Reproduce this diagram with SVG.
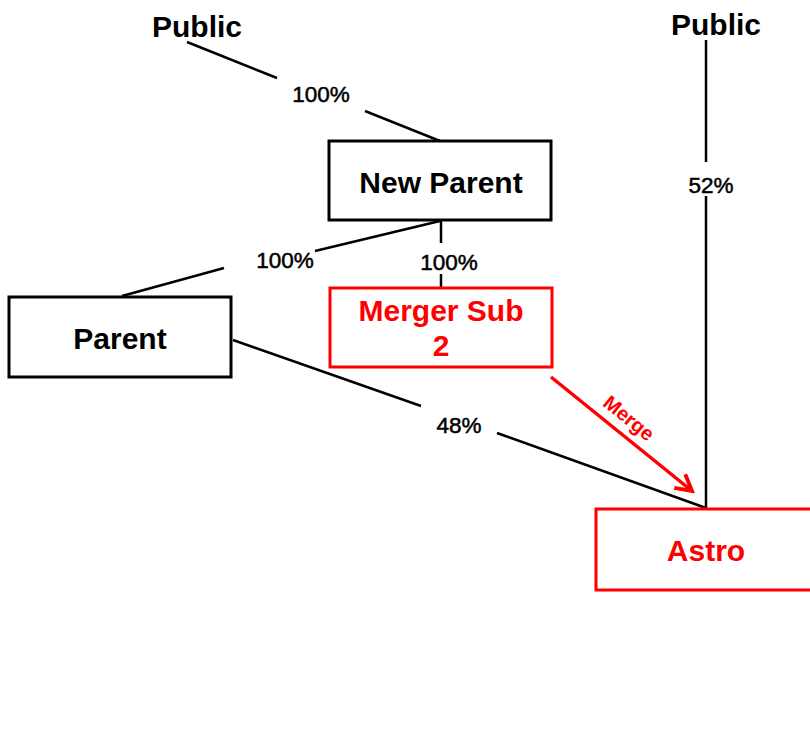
<svg xmlns="http://www.w3.org/2000/svg" width="810" height="731" viewBox="0 0 810 731">
  <style>
    .box { fill: #ffffff; stroke: #000000; stroke-width: 3; }
    .box.red { stroke: #ff0000; }
    .lbl { font-family: "Liberation Sans", Arial, sans-serif; text-anchor: middle; fill: #000000; }
    .big { font-size: 30px; font-weight: bold; }
    .pct { font-size: 22.5px; font-weight: normal; stroke: #000000; stroke-width: 0.5; }
    .red-t { fill: #ff0000; }
    .conn { stroke: #000000; stroke-width: 2.5; fill: none; }
    .merge { stroke: #ff0000; stroke-width: 3.5; fill: none; }
  </style>
  <defs>
    <marker id="chev" viewBox="0 0 12 12" refX="10" refY="6" markerWidth="6" markerHeight="6" orient="auto" markerUnits="strokeWidth">
      <polyline points="1,1 10,6 1,11" fill="none" stroke="#ff0000" stroke-width="2.2"/>
    </marker>
  </defs>
  <rect width="810" height="731" fill="#ffffff"/>

  <g id="connectors">
    <!-- Public to New Parent -->
    <line class="conn" x1="187" y1="42" x2="277" y2="78"/>
    <line class="conn" x1="365" y1="111" x2="440" y2="141"/>
    <text class="lbl pct" x="321" y="102">100%</text>
    <!-- Public to Astro -->
    <line class="conn" x1="706" y1="40" x2="706" y2="162"/>
    <line class="conn" x1="706" y1="196" x2="706" y2="509"/>
    <text class="lbl pct" x="711" y="193">52%</text>
    <!-- New Parent to Parent -->
    <line class="conn" x1="440" y1="221" x2="315" y2="251"/>
    <line class="conn" x1="224" y1="268" x2="122" y2="296"/>
    <text class="lbl pct" x="285" y="268">100%</text>
    <!-- New Parent to Merger Sub 2 -->
    <line class="conn" x1="441" y1="221" x2="441" y2="243"/>
    <line class="conn" x1="441" y1="274" x2="441" y2="288"/>
    <text class="lbl pct" x="449" y="270">100%</text>
    <!-- Parent to Astro -->
    <line class="conn" x1="233" y1="340" x2="421" y2="406"/>
    <line class="conn" x1="497" y1="433" x2="706" y2="508"/>
    <text class="lbl pct" x="459" y="433">48%</text>
    <!-- Merger Sub 2 merges into Astro -->
    <line class="merge" x1="551" y1="377" x2="692" y2="491" marker-end="url(#chev)"/>
    <text class="lbl red-t" font-size="20" font-weight="bold" transform="translate(629,418) rotate(39)" y="7">Merge</text>
  </g>

  <g id="public-left">
    <text class="lbl big" x="197" y="37">Public</text>
  </g>
  <g id="public-right">
    <text class="lbl big" x="716" y="35">Public</text>
  </g>
  <g id="new-parent">
    <rect class="box" x="329" y="141" width="222" height="79"/>
    <text class="lbl big" x="441" y="193">New Parent</text>
  </g>
  <g id="parent">
    <rect class="box" x="9" y="297" width="222" height="80"/>
    <text class="lbl big" x="120" y="349">Parent</text>
  </g>
  <g id="merger-sub-2">
    <rect class="box red" x="330" y="288" width="222" height="79"/>
    <text class="lbl big red-t" x="441" y="321">Merger Sub</text>
    <text class="lbl big red-t" x="441" y="356">2</text>
  </g>
  <g id="astro">
    <rect class="box red" x="596" y="509" width="220" height="81"/>
    <text class="lbl big red-t" x="706" y="561">Astro</text>
  </g>
</svg>
